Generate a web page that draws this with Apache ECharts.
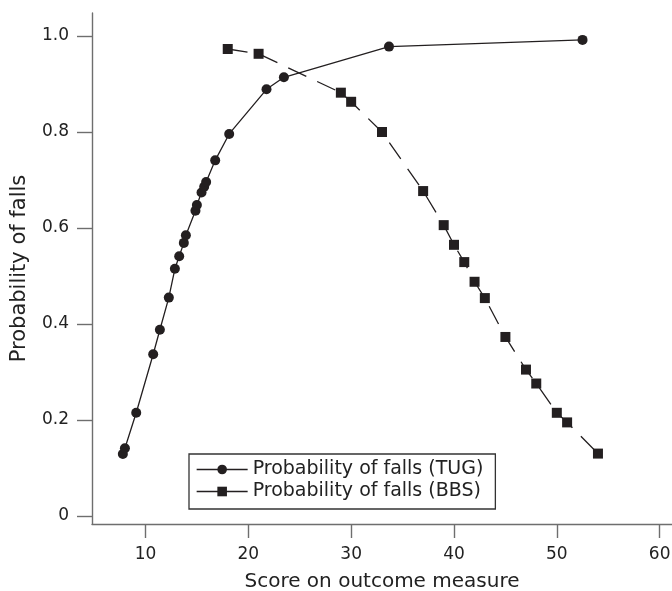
<!DOCTYPE html>
<html>
<head>
<meta charset="utf-8">
<script src="https://cdn.jsdelivr.net/npm/echarts@6/dist/echarts.min.js"></script>
<style>
  html, body { margin: 0; padding: 0; background: #fff; }
  #chart { width: 672px; height: 591px; }
</style>
</head>
<body>
<div id="chart"></div>
<script>
// Data
const tugScores = [7.8, 8.0, 9.1, 10.75, 11.4, 12.27, 12.86, 13.28, 13.73, 13.93, 14.86, 15.0, 15.45, 15.71, 15.9, 16.78, 18.14, 21.77, 23.46, 33.68, 52.5];
const tugProb   = [0.129, 0.141, 0.215, 0.337, 0.388, 0.455, 0.515, 0.541, 0.569, 0.585, 0.636, 0.648, 0.674, 0.686, 0.696, 0.741, 0.796, 0.889, 0.914, 0.978, 0.992];
const bbsScores = [18, 21, 29, 30, 33, 37, 39, 40, 41, 42, 43, 45, 47, 48, 50, 51, 54];
const bbsProb   = [0.973, 0.963, 0.882, 0.863, 0.800, 0.677, 0.606, 0.565, 0.529, 0.488, 0.454, 0.373, 0.305, 0.276, 0.215, 0.195, 0.130];
const xTicks = [10, 20, 30, 40, 50, 60];
const yTicks = [0, 0.2, 0.4, 0.6, 0.8, 1.0];
const seriesNames = ['Probability of falls (TUG)', 'Probability of falls (BBS)'];
const xTitle = 'Score on outcome measure';
const yTitle = 'Probability of falls';

const ink = '#231f20';
const axisGray = '#6e6e6e';
const font = '"DejaVu Sans", "Liberation Sans", sans-serif';

const chart = echarts.init(document.getElementById('chart'), null, { renderer: 'canvas' });
chart.setOption({
  animation: false,
  backgroundColor: '#fff',
  grid: { left: 92, right: 0, top: 13, bottom: 67, containLabel: false, outerBoundsMode: 'none' },
  xAxis: {
    type: 'value',
    min: 4.8, max: 61.2,
    name: xTitle,
    nameLocation: 'middle',
    nameGap: 48,
    nameTextStyle: { fontFamily: font, fontSize: 20, color: '#222' },
    axisLine: { show: true, onZero: false, lineStyle: { color: axisGray, width: 1.4 } },
    axisTick: { show: true, inside: false, length: 14, customValues: xTicks, lineStyle: { color: axisGray, width: 1.4 } },
    axisLabel: { customValues: xTicks, margin: 22, fontFamily: font, fontSize: 17, color: '#222' },
    splitLine: { show: false }
  },
  yAxis: {
    type: 'value',
    min: -0.0167, max: 1.048,
    name: yTitle,
    nameLocation: 'middle',
    nameGap: 62,
    nameRotate: 90,
    nameTextStyle: { fontFamily: font, fontSize: 21, color: '#222' },
    axisLine: { show: true, onZero: false, lineStyle: { color: axisGray, width: 1.4 } },
    axisTick: { show: true, inside: false, length: 15, customValues: yTicks, lineStyle: { color: axisGray, width: 1.4 } },
    axisLabel: {
      customValues: yTicks, margin: 23, fontFamily: font, fontSize: 17, color: '#222',
      formatter: v => (Math.abs(v) < 1e-9 ? '0' : v.toFixed(1))
    },
    splitLine: { show: false }
  },
  legend: {
    left: 189, top: 454,
    orient: 'vertical',
    data: seriesNames,
    itemWidth: 51, itemHeight: 12, itemGap: 3,
    padding: [6, 12, 8, 7],
    borderColor: '#333', borderWidth: 1.3,
    textStyle: { fontFamily: font, fontSize: 19, color: '#222' },
    lineStyle: { type: 'solid', width: 1.3, color: ink },
    selectedMode: false
  },
  series: [
    {
      name: seriesNames[0],
      type: 'line',
      data: tugScores.map((x, i) => [x, tugProb[i]]),
      symbol: 'circle', symbolSize: 10,
      lineStyle: { color: ink, width: 1.3, type: 'solid' },
      itemStyle: { color: ink },
      z: 3
    },
    {
      name: seriesNames[1],
      type: 'line',
      data: bbsScores.map((x, i) => [x, bbsProb[i]]),
      symbol: 'rect', symbolSize: 10,
      lineStyle: { color: ink, width: 1.3, type: [20, 12] },
      itemStyle: { color: ink },
      z: 2
    }
  ]
});
</script>
</body>
</html>
